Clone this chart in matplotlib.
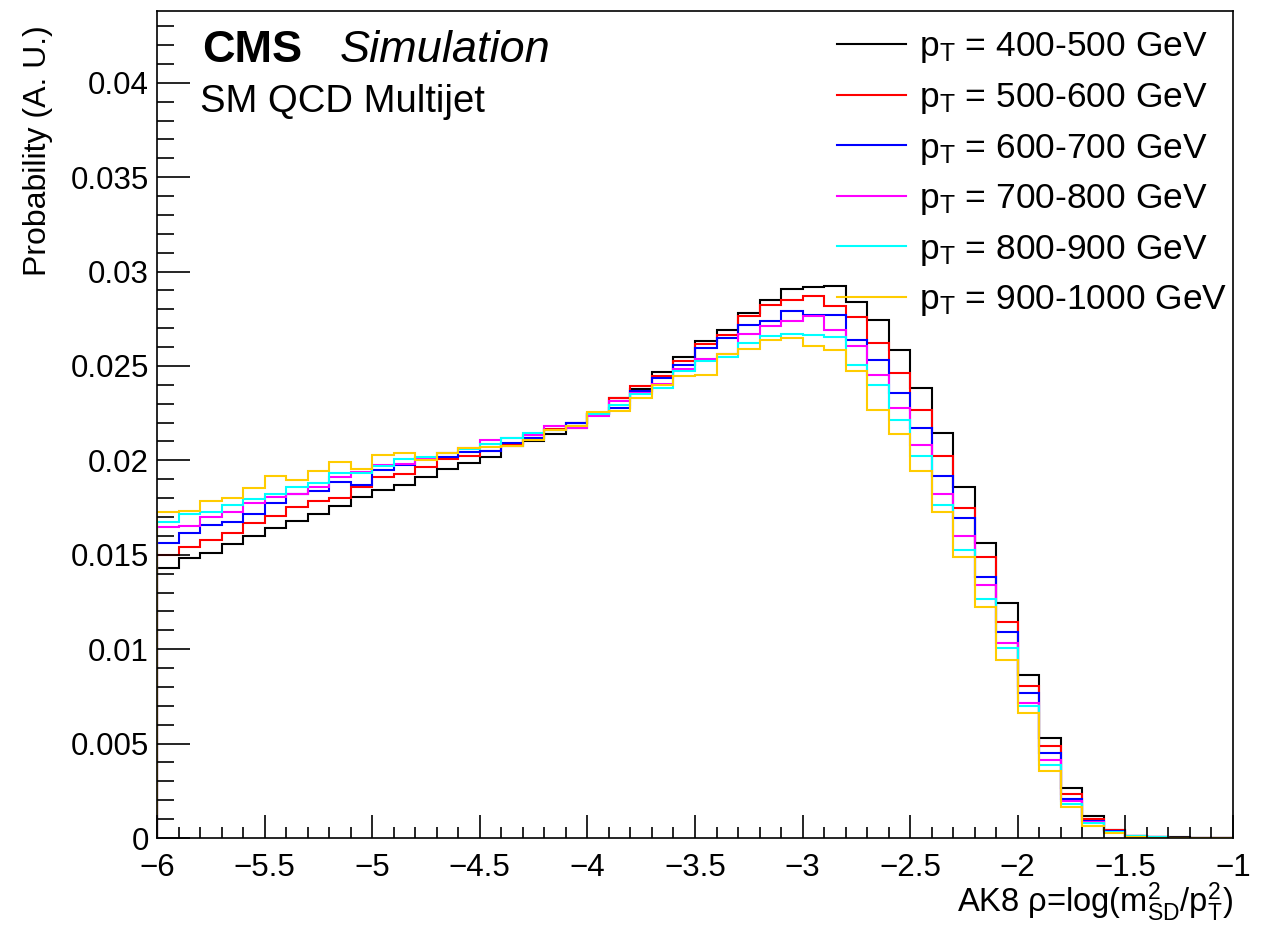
"""CMS simulation: AK8 rho distribution of SM QCD multijet, in pT slices."""

import matplotlib
matplotlib.use("Agg")
import matplotlib.pyplot as plt
import numpy as np
from matplotlib.lines import Line2D
from matplotlib.ticker import MultipleLocator

plt.rcParams["font.family"] = ["Liberation Sans", "DejaVu Sans"]
plt.rcParams["mathtext.fontset"] = "custom"
plt.rcParams["mathtext.rm"] = "Liberation Sans"
plt.rcParams["mathtext.it"] = "Liberation Sans:italic"
plt.rcParams["mathtext.bf"] = "Liberation Sans:bold"

# 50 bins of 0.1 between rho = -6 and -1
RHO_LO, RHO_HI, N_BINS = -6.0, -1.0, 50

LABELS = ["400-500", "500-600", "600-700", "700-800", "800-900", "900-1000"]
COLORS = ["#000000", "#ff0000", "#0000ff", "#ff00ff", "#00ffff", "#ffcc00"]

pt_400_500 = [
    0.01429, 0.01482, 0.01512, 0.01556, 0.01602, 0.01644, 0.01681, 0.01717, 0.01761, 0.01805,
    0.01844, 0.01867, 0.01914, 0.01955, 0.01988, 0.02020, 0.02077, 0.02104, 0.02138, 0.02197,
    0.02245, 0.02330, 0.02377, 0.02469, 0.02550, 0.02630, 0.02691, 0.02780, 0.02850, 0.02907,
    0.02918, 0.02925, 0.02841, 0.02741, 0.02582, 0.02383, 0.02147, 0.01858, 0.01565, 0.01243,
    0.00864, 0.00528, 0.00263, 0.00115, 0.00042, 0.00013, 0.00007, 0.00003, 0.0, 0.0,
]
pt_500_600 = [
    0.01499, 0.01543, 0.01579, 0.01618, 0.01667, 0.01706, 0.01752, 0.01786, 0.01800, 0.01858,
    0.01911, 0.01927, 0.01967, 0.02006, 0.02025, 0.02050, 0.02085, 0.02135, 0.02165, 0.02171,
    0.02250, 0.02330, 0.02395, 0.02448, 0.02524, 0.02615, 0.02665, 0.02762, 0.02824, 0.02850,
    0.02868, 0.02815, 0.02757, 0.02624, 0.02465, 0.02266, 0.02024, 0.01750, 0.01487, 0.01146,
    0.00805, 0.00487, 0.00232, 0.00099, 0.00040, 0.00012, 0.00006, 0.00002, 0.0, 0.0,
]
pt_600_700 = [
    0.01561, 0.01614, 0.01658, 0.01676, 0.01715, 0.01776, 0.01823, 0.01840, 0.01884, 0.01870,
    0.01950, 0.01976, 0.02012, 0.02017, 0.02047, 0.02052, 0.02090, 0.02121, 0.02160, 0.02197,
    0.02245, 0.02277, 0.02370, 0.02434, 0.02506, 0.02594, 0.02650, 0.02718, 0.02736, 0.02793,
    0.02771, 0.02771, 0.02638, 0.02533, 0.02356, 0.02173, 0.01918, 0.01694, 0.01384, 0.01091,
    0.00767, 0.00449, 0.00207, 0.00090, 0.00035, 0.00010, 0.00005, 0.00002, 0.0, 0.0,
]
pt_700_800 = [
    0.01645, 0.01653, 0.01702, 0.01729, 0.01773, 0.01805, 0.01823, 0.01858, 0.01911, 0.01938,
    0.01976, 0.01982, 0.02006, 0.02038, 0.02067, 0.02106, 0.02121, 0.02135, 0.02180, 0.02171,
    0.02234, 0.02312, 0.02356, 0.02405, 0.02483, 0.02536, 0.02564, 0.02668, 0.02713, 0.02736,
    0.02762, 0.02691, 0.02607, 0.02453, 0.02280, 0.02079, 0.01823, 0.01600, 0.01340, 0.01034,
    0.00713, 0.00413, 0.00198, 0.00085, 0.00032, 0.00010, 0.00005, 0.00002, 0.0, 0.0,
]
pt_800_900 = [
    0.01676, 0.01717, 0.01724, 0.01764, 0.01794, 0.01823, 0.01858, 0.01882, 0.01935, 0.01935,
    0.01971, 0.02006, 0.02020, 0.02041, 0.02059, 0.02088, 0.02121, 0.02144, 0.02160, 0.02180,
    0.02245, 0.02294, 0.02350, 0.02383, 0.02471, 0.02524, 0.02550, 0.02624, 0.02660, 0.02670,
    0.02665, 0.02656, 0.02506, 0.02400, 0.02216, 0.02024, 0.01764, 0.01526, 0.01266, 0.01005,
    0.00699, 0.00387, 0.00180, 0.00078, 0.00030, 0.00008, 0.00004, 0.00001, 0.0, 0.0,
]
pt_900_1000 = [
    0.01724, 0.01734, 0.01786, 0.01800, 0.01853, 0.01918, 0.01897, 0.01944, 0.01993, 0.01955,
    0.02029, 0.02038, 0.02003, 0.02041, 0.02064, 0.02070, 0.02074, 0.02110, 0.02160, 0.02180,
    0.02258, 0.02263, 0.02332, 0.02400, 0.02448, 0.02453, 0.02564, 0.02589, 0.02638, 0.02650,
    0.02607, 0.02582, 0.02471, 0.02268, 0.02140, 0.01946, 0.01727, 0.01490, 0.01226, 0.00943,
    0.00664, 0.00357, 0.00166, 0.00062, 0.00025, 0.00003, 0.00001, 0.0, 0.0, 0.0,
]
SERIES = [pt_400_500, pt_500_600, pt_600_700, pt_700_800, pt_800_900, pt_900_1000]


def main():
    W, H = 1271, 931
    fig = plt.figure(figsize=(W / 100, H / 100), dpi=100)
    ax = fig.add_axes([157 / W, 1 - 838 / H, (1233 - 157) / W, (838 - 11) / H])

    edges = np.linspace(RHO_LO, RHO_HI, N_BINS + 1)
    for vals, col in zip(SERIES, COLORS):
        ax.stairs(vals, edges, color=col, lw=1.5, baseline=0)

    ax.set_xlim(RHO_LO, RHO_HI)
    ax.set_ylim(0, 0.0438)

    ax.xaxis.set_major_locator(MultipleLocator(0.5))
    ax.xaxis.set_minor_locator(MultipleLocator(0.1))
    ax.yaxis.set_major_locator(MultipleLocator(0.005))
    ax.yaxis.set_minor_locator(MultipleLocator(0.001))
    ax.xaxis.set_major_formatter(lambda v, p: f"{v:g}".replace("-", "\u2212"))
    ax.yaxis.set_major_formatter(lambda v, p: f"{v:g}")

    ax.tick_params(which="both", direction="in", top=False, right=False,
                   width=1.2, labelsize=22.5)
    ax.tick_params(axis="x", which="major", length=16.5, pad=11)
    ax.tick_params(axis="x", which="minor", length=8)
    ax.tick_params(axis="y", which="major", length=24, pad=6)
    ax.tick_params(axis="y", which="minor", length=12)
    for sp in ax.spines.values():
        sp.set_linewidth(1.2)

    fig.text(202 / W, 1 - 62 / H, "CMS", fontsize=32.5, fontweight="bold", va="baseline")
    fig.text(340 / W, 1 - 62 / H, "Simulation", fontsize=32.5, style="italic", va="baseline")
    fig.text(200 / W, 1 - 112 / H, "SM QCD Multijet", fontsize=27.5, va="baseline")

    fig.text(38 / W, 1 - 25 / H, "Probability (A. U.)", fontsize=23,
             rotation=90, ha="center", va="top")
    fig.text(1233 / W, 1 - 912 / H,
             r"AK8 ρ=log(m$^{2}_{\mathrm{SD}}$/p$^{2}_{\mathrm{T}}$)",
             fontsize=23.5, ha="right", va="baseline")

    handles = [Line2D([], [], color=c, lw=1.5) for c in COLORS]
    texts = [r"p$_{\mathrm{T}}$ = " + lab + " GeV" for lab in LABELS]
    ax.legend(handles, texts, loc="upper right", bbox_to_anchor=(1.0, 0.983),
              frameon=False, fontsize=25.5, handlelength=1.95, handletextpad=0.37,
              labelspacing=0.44, borderpad=0.1, borderaxespad=0.05)

    fig.savefig("out.png", dpi=100)
    plt.close(fig)


if __name__ == "__main__":
    main()
